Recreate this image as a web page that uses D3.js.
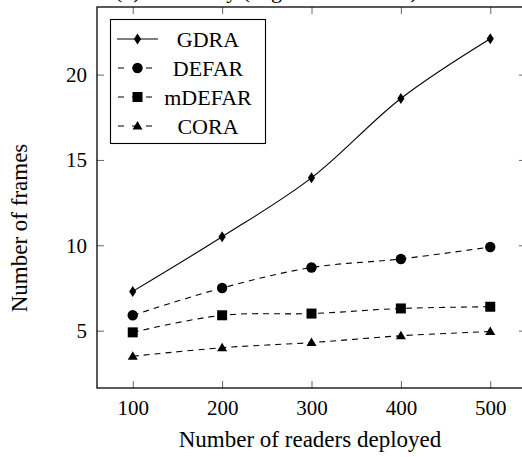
<!DOCTYPE html>
<html>
<head>
<meta charset="utf-8">
<script src="https://cdn.jsdelivr.net/npm/d3@7"></script>
<style>
  body { margin: 0; background: #fff; }
  svg { display: block; font-family: "Liberation Serif", "Times New Roman", serif; }
  .axislabel { font-size: 23px; }
  .legendtext { font-size: 22px; }
</style>
</head>
<body>
<div class="vizcontainer"></div>
<script>
var readers = [100, 200, 300, 400, 500];
var seriesNames = ["GDRA", "DEFAR", "mDEFAR", "CORA"];
var gdra = [7.3, 10.5, 13.95, 18.6, 22.1];
var defar = [5.9, 7.5, 8.7, 9.2, 9.9];
var mdefar = [4.9, 5.9, 6.0, 6.3, 6.4];
var cora = [3.5, 4.0, 4.3, 4.7, 4.95];
var xTicks = [100, 200, 300, 400, 500];
var yTicks = [5, 10, 15, 20];

var width = 522, height = 457;
var frame = { left: 97, top: 7, right: 526, bottom: 388 };
var serif = "'Liberation Serif', 'Times New Roman', serif";

var series = [
  { name: seriesNames[0], values: gdra, dash: null, marker: "diamond" },
  { name: seriesNames[1], values: defar, dash: "6,5", marker: "circle" },
  { name: seriesNames[2], values: mdefar, dash: "6,5", marker: "square" },
  { name: seriesNames[3], values: cora, dash: "6,5", marker: "triangle" }
];

var svgCanvas = d3.select(".vizcontainer")
  .append("svg")
  .attr("width", width)
  .attr("height", height);

// pgfplots style: enlarge limits by 10%
var xr = d3.extent(readers);
var xpad = (xr[1] - xr[0]) * 0.1;
var allY = gdra.concat(defar, mdefar, cora);
var yr = d3.extent(allY);
var ypad = (yr[1] - yr[0]) * 0.1;

var xscale = d3.scaleLinear()
  .domain([xr[0] - xpad, xr[1] + xpad])
  .range([frame.left, frame.right]);

var yscale = d3.scaleLinear()
  .domain([yr[0] - ypad, yr[1] + ypad])
  .range([frame.bottom, frame.top]);

// title, mostly cut off at the top (as in the source figure)
svgCanvas.append("text")
  .attr("x", 115)
  .attr("y", -2)
  .attr("font-size", 22)
  .text("(b) Efficiency (Big scale scenario)");

var tickLen = 7;

var xAxisBottom = d3.axisBottom(xscale).tickValues(xTicks).tickSize(-tickLen).tickPadding(12).tickFormat(d3.format("d"));
var xAxisTop = d3.axisTop(xscale).tickValues(xTicks).tickSize(-tickLen).tickFormat("");
var yAxisLeft = d3.axisLeft(yscale).tickValues(yTicks).tickSize(-tickLen).tickPadding(10);
var yAxisRight = d3.axisRight(yscale).tickValues(yTicks).tickSize(-tickLen).tickFormat("");

svgCanvas.append("g").attr("transform", "translate(0," + frame.bottom + ")").call(xAxisBottom);
svgCanvas.append("g").attr("transform", "translate(0," + frame.top + ")").call(xAxisTop);
svgCanvas.append("g").attr("transform", "translate(" + frame.left + ",0)").call(yAxisLeft);
svgCanvas.append("g").attr("transform", "translate(" + frame.right + ",0)").call(yAxisRight);

svgCanvas.selectAll(".domain").remove();
svgCanvas.selectAll(".tick line").attr("stroke", "#666").attr("stroke-width", 1);
svgCanvas.selectAll(".tick text")
  .attr("fill", "#000")
  .attr("font-family", serif)
  .attr("font-size", 21);

svgCanvas.append("rect")
  .attr("x", frame.left)
  .attr("y", frame.top)
  .attr("width", frame.right - frame.left)
  .attr("height", frame.bottom - frame.top)
  .attr("fill", "none")
  .attr("stroke", "#000")
  .attr("stroke-width", 1.3);

svgCanvas.append("text")
  .attr("class", "axislabel")
  .attr("text-anchor", "middle")
  .attr("x", 310)
  .attr("y", 447)
  .text("Number of readers deployed");

svgCanvas.append("text")
  .attr("class", "axislabel")
  .attr("text-anchor", "middle")
  .attr("transform", "translate(27," + 228 + ") rotate(-90)")
  .text("Number of frames");

function markerPath(type) {
  if (type === "diamond") return "M0,-5.5L3.6,0L0,5.5L-3.6,0Z";
  if (type === "square") return "M-5,-5H5V5H-5Z";
  if (type === "triangle") return "M0,-5L5,3.5H-5Z";
  return d3.symbol().type(d3.symbolCircle).size(Math.PI * 5.2 * 5.2)();
}

var line = d3.line()
  .x((d, i) => xscale(readers[i]))
  .y((d) => yscale(d))
  .curve(d3.curveCatmullRom.alpha(0.5));

series.forEach(function (s) {
  svgCanvas.append("path")
    .attr("d", line(s.values))
    .attr("fill", "none")
    .attr("stroke", "#000")
    .attr("stroke-width", 1.1)
    .attr("stroke-dasharray", s.dash);

  svgCanvas.selectAll(null)
    .data(s.values)
    .enter()
    .append("path")
    .attr("d", markerPath(s.marker))
    .attr("transform", (d, i) => "translate(" + xscale(readers[i]) + "," + yscale(d) + ")")
    .attr("fill", "#000");
});

var legend = svgCanvas.append("g").attr("id", "legend");

legend.append("rect")
  .attr("x", 110.5)
  .attr("y", 19.5)
  .attr("width", 155)
  .attr("height", 124)
  .attr("fill", "#fff")
  .attr("stroke", "#000")
  .attr("stroke-width", 1.1);

var legendY = (i) => 39 + 29 * i;

legend.selectAll("line")
  .data(series)
  .enter()
  .append("line")
  .attr("x1", 117)
  .attr("x2", 158)
  .attr("y1", (d, i) => legendY(i))
  .attr("y2", (d, i) => legendY(i))
  .attr("stroke", "#000")
  .attr("stroke-width", 1.1)
  .attr("stroke-dasharray", (d) => d.dash ? "6,8" : null)
  .attr("stroke-dashoffset", (d) => d.dash ? -1 : null);

legend.selectAll("path")
  .data(series)
  .enter()
  .append("path")
  .attr("d", (d) => markerPath(d.marker))
  .attr("transform", (d, i) => "translate(137.5," + legendY(i) + ")")
  .attr("fill", "#000");

legend.selectAll("text")
  .data(series)
  .enter()
  .append("text")
  .attr("class", "legendtext")
  .attr("text-anchor", "middle")
  .attr("x", 208)
  .attr("y", (d, i) => legendY(i) + 8)
  .text((d) => d.name);
</script>
</body>
</html>
